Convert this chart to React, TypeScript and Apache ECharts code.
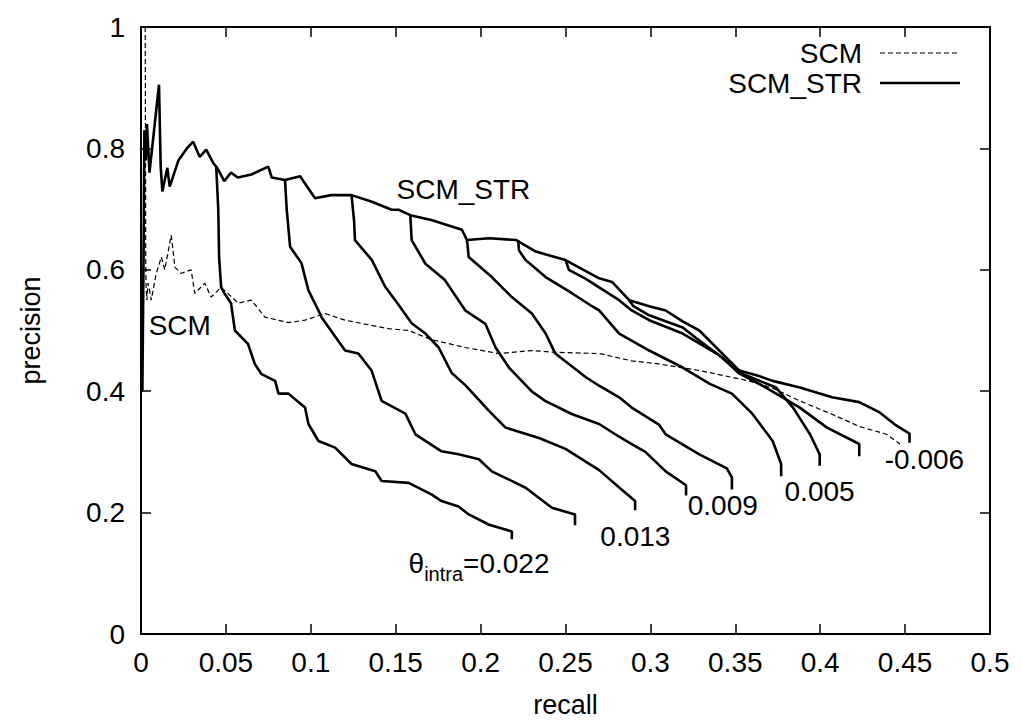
import React, { useEffect, useRef } from "react";
import * as echarts from "echarts";

type Pt = [number, number];

const FONT = '"Liberation Sans", Arial, Helvetica, sans-serif';

const xMin = 0;
const xMax = 0.5;
const xStep = 0.05;
const yMin = 0;
const yMax = 1;
const yStep = 0.2;

// SCM (dashed)
const scm: Pt[] = [
  [0.0025, 1.0], [0.0026, 0.85], [0.0028, 0.62], [0.003, 0.57], [0.0035, 0.55],
  [0.0041, 0.578], [0.005, 0.566], [0.006, 0.55], [0.009, 0.594], [0.012, 0.621],
  [0.014, 0.6], [0.0178, 0.657], [0.02, 0.604], [0.0236, 0.594], [0.0295, 0.6],
  [0.0317, 0.561], [0.0376, 0.578], [0.0413, 0.555], [0.0472, 0.571], [0.0573, 0.545],
  [0.065, 0.55], [0.073, 0.522], [0.0868, 0.513], [0.0966, 0.517], [0.1084, 0.528],
  [0.1202, 0.517], [0.1458, 0.503], [0.1576, 0.5], [0.171, 0.485], [0.191, 0.472],
  [0.2107, 0.462], [0.2302, 0.467], [0.244, 0.464], [0.27, 0.462], [0.289, 0.45],
  [0.305, 0.445], [0.329, 0.434], [0.358, 0.417], [0.372, 0.405], [0.388, 0.384],
  [0.407, 0.362], [0.423, 0.342], [0.439, 0.329], [0.447, 0.313],
];

// SCM_STR envelope (theta_intra = -0.006)
const strEnvelope: Pt[] = [
  [0.0008, 0.4], [0.0015, 0.62], [0.002, 0.83], [0.0028, 0.78], [0.0035, 0.84],
  [0.005, 0.76], [0.0106, 0.905], [0.0116, 0.77], [0.0126, 0.729], [0.0155, 0.768],
  [0.0169, 0.737], [0.022, 0.78], [0.027, 0.8], [0.0307, 0.811], [0.0346, 0.786],
  [0.0384, 0.798], [0.0425, 0.776], [0.0443, 0.77], [0.0455, 0.765], [0.049, 0.746],
  [0.053, 0.76], [0.057, 0.752], [0.065, 0.757], [0.075, 0.77], [0.077, 0.752],
  [0.0848, 0.748], [0.0937, 0.754], [0.1025, 0.718], [0.112, 0.723], [0.124, 0.723],
  [0.136, 0.712], [0.1476, 0.699], [0.1517, 0.699], [0.1586, 0.69], [0.171, 0.682],
  [0.189, 0.666], [0.192, 0.649], [0.205, 0.652], [0.221, 0.649], [0.2325, 0.63],
  [0.25, 0.616], [0.2698, 0.586], [0.2774, 0.58], [0.2875, 0.55], [0.2993, 0.54],
  [0.309, 0.533], [0.319, 0.515], [0.3288, 0.5], [0.3424, 0.462], [0.3524, 0.434],
  [0.364, 0.425], [0.372, 0.417], [0.388, 0.406], [0.407, 0.39], [0.423, 0.382],
  [0.435, 0.365], [0.444, 0.345], [0.4526, 0.33], [0.4526, 0.315],
];

// SCM_STR branches (theta_intra = 0.022 ... )
const strB1: Pt[] = [
  [0.0443, 0.77], [0.0455, 0.7], [0.046, 0.62], [0.0472, 0.571], [0.0494, 0.56],
  [0.053, 0.545], [0.0553, 0.5], [0.063, 0.478], [0.067, 0.445], [0.071, 0.428],
  [0.079, 0.417], [0.081, 0.396], [0.0868, 0.396], [0.0966, 0.373], [0.0986, 0.346],
  [0.1045, 0.318], [0.1143, 0.307], [0.124, 0.28], [0.138, 0.268], [0.1417, 0.252],
  [0.1576, 0.249], [0.171, 0.23], [0.177, 0.219], [0.187, 0.21], [0.193, 0.197],
  [0.205, 0.18], [0.2184, 0.169], [0.2184, 0.156],
];
const strB2: Pt[] = [
  [0.0848, 0.748], [0.0858, 0.7], [0.0878, 0.638], [0.0945, 0.611], [0.0986, 0.566],
  [0.1045, 0.533], [0.1063, 0.522], [0.1202, 0.467], [0.128, 0.462], [0.1358, 0.434],
  [0.1417, 0.384], [0.1557, 0.363], [0.1616, 0.329], [0.177, 0.301], [0.187, 0.296],
  [0.199, 0.288], [0.2066, 0.268], [0.2265, 0.241], [0.242, 0.208], [0.2556, 0.197],
  [0.2556, 0.179],
];
const strB3: Pt[] = [
  [0.124, 0.723], [0.1255, 0.68], [0.126, 0.649], [0.136, 0.616], [0.1438, 0.572],
  [0.1505, 0.547], [0.1594, 0.512], [0.1675, 0.495], [0.1753, 0.472], [0.183, 0.43],
  [0.191, 0.41], [0.2048, 0.368], [0.2147, 0.34], [0.2344, 0.323], [0.25, 0.305],
  [0.2698, 0.27], [0.283, 0.238], [0.291, 0.219], [0.291, 0.204],
];
const strB4: Pt[] = [
  [0.1586, 0.69], [0.1594, 0.649], [0.1675, 0.61], [0.179, 0.583], [0.191, 0.533],
  [0.2028, 0.511], [0.2088, 0.472], [0.2167, 0.439], [0.23, 0.4], [0.238, 0.384],
  [0.254, 0.362], [0.2698, 0.346], [0.2816, 0.325], [0.289, 0.313], [0.297, 0.3],
  [0.309, 0.268], [0.321, 0.245], [0.321, 0.228],
];
const strB5: Pt[] = [
  [0.192, 0.649], [0.193, 0.621], [0.2066, 0.588], [0.2184, 0.555], [0.2302, 0.528],
  [0.2383, 0.495], [0.244, 0.462], [0.262, 0.423], [0.2698, 0.409], [0.2816, 0.39],
  [0.289, 0.373], [0.305, 0.345], [0.309, 0.329], [0.3288, 0.296], [0.345, 0.273],
  [0.348, 0.258], [0.348, 0.238],
];
const strB6: Pt[] = [
  [0.2221, 0.649], [0.2226, 0.632], [0.2265, 0.616], [0.2383, 0.588], [0.254, 0.561],
  [0.2656, 0.54], [0.2698, 0.533], [0.2816, 0.495], [0.2993, 0.467], [0.319, 0.439],
  [0.335, 0.412], [0.348, 0.396], [0.36, 0.363], [0.372, 0.318], [0.377, 0.28],
  [0.377, 0.26],
];
const strB7: Pt[] = [
  [0.25, 0.616], [0.252, 0.6], [0.262, 0.585], [0.2698, 0.571], [0.2816, 0.55],
  [0.289, 0.533], [0.2993, 0.517], [0.319, 0.495], [0.339, 0.462], [0.354, 0.429],
  [0.374, 0.406], [0.384, 0.373], [0.394, 0.329], [0.3997, 0.296], [0.3997, 0.277],
];
const strB8: Pt[] = [
  [0.2875, 0.55], [0.29, 0.54], [0.2993, 0.525], [0.319, 0.505], [0.329, 0.483],
  [0.3424, 0.455], [0.352, 0.43], [0.368, 0.406], [0.388, 0.373], [0.404, 0.34],
  [0.423, 0.313], [0.423, 0.293],
];

const strCurves: Pt[][] = [strB1, strB2, strB3, strB4, strB5, strB6, strB7, strB8, strEnvelope];

// text annotations in data coordinates (left edge, vertical centre)
const curveLabels: { text: string; at: Pt }[] = [
  { text: "SCM_STR", at: [0.1505, 0.732] },
  { text: "SCM", at: [0.0045, 0.508] },
  { text: "0.013", at: [0.2705, 0.161] },
  { text: "0.009", at: [0.322, 0.212] },
  { text: "0.005", at: [0.379, 0.234] },
  { text: "-0.006", at: [0.438, 0.287] },
];
const thetaLabel = { symbol: "θ", sub: "intra", value: "=0.022", at: [0.1576, 0.111] as Pt };

export default function App() {
  const ref = useRef<HTMLDivElement>(null);

  useEffect(() => {
    if (!ref.current) return;
    const chart = echarts.init(ref.current, undefined, { renderer: "svg" });

    const axisLine = { show: true, onZero: false, lineStyle: { color: "#000", width: 2 } };
    const axisTick = { show: true, inside: true, length: 10, lineStyle: { color: "#000", width: 1.5 } };

    const series: any[] = [
      {
        name: "SCM",
        type: "line",
        data: scm,
        showSymbol: false,
        symbol: "none",
        lineStyle: { color: "#000", width: 1.2, type: [5, 3] },
        z: 2,
      },
      ...strCurves.map((c) => ({
        name: "SCM_STR",
        type: "line",
        data: c,
        showSymbol: false,
        symbol: "none",
        lineStyle: { color: "#000", width: 2.6 },
        z: 3,
      })),
    ];

    chart.setOption({
      animation: false,
      backgroundColor: "#fff",
      textStyle: { fontFamily: FONT },
      grid: { left: 141, right: 32, top: 27, bottom: 89 },
      xAxis: [
        {
          type: "value",
          min: xMin,
          max: xMax,
          interval: xStep,
          position: "bottom",
          axisLine,
          axisTick,
          splitLine: { show: false },
          axisLabel: { fontSize: 28, color: "#000", margin: 14, fontFamily: FONT },
          name: "recall",
          nameLocation: "middle",
          nameGap: 57,
          nameTextStyle: { fontSize: 27, color: "#000", fontFamily: FONT },
        },
        {
          type: "value",
          min: xMin,
          max: xMax,
          interval: xStep,
          position: "top",
          axisLine,
          axisTick,
          splitLine: { show: false },
          axisLabel: { show: false },
        },
      ],
      yAxis: [
        {
          type: "value",
          min: yMin,
          max: yMax,
          interval: yStep,
          position: "left",
          axisLine,
          axisTick,
          splitLine: { show: false },
          axisLabel: { fontSize: 28, color: "#000", margin: 16, fontFamily: FONT },
          name: "precision",
          nameLocation: "middle",
          nameGap: 97,
          nameRotate: 90,
          nameTextStyle: { fontSize: 27, color: "#000", fontFamily: FONT },
        },
        {
          type: "value",
          min: yMin,
          max: yMax,
          interval: yStep,
          position: "right",
          axisLine,
          axisTick,
          splitLine: { show: false },
          axisLabel: { show: false },
        },
      ],
      series,
    });

    const toPx = (p: Pt) => chart.convertToPixel({ xAxisIndex: 0, yAxisIndex: 0 }, p) as number[];

    const graphics: any[] = curveLabels.map((l) => {
      const [px, py] = toPx(l.at);
      return {
        type: "text",
        x: px,
        y: py,
        z: 10,
        style: {
          text: l.text,
          fontSize: 28,
          fontFamily: FONT,
          fill: "#000",
          textAlign: "left",
          textVerticalAlign: "middle",
        },
      };
    });

    const [tx, ty] = toPx(thetaLabel.at);
    graphics.push({
      type: "text",
      x: tx,
      y: ty,
      z: 10,
      style: {
        text: `{a|${thetaLabel.symbol}}{b|${thetaLabel.sub}}{a|${thetaLabel.value}}`,
        fill: "#000",
        textAlign: "left",
        textVerticalAlign: "middle",
        rich: {
          a: { fontSize: 28, fontFamily: FONT, fill: "#000", lineHeight: 34, verticalAlign: "top" },
          b: { fontSize: 20, fontFamily: FONT, fill: "#000", lineHeight: 34, verticalAlign: "bottom", padding: [14, 0, 0, 0] },
        },
      },
    });

    // key (gnuplot style)
    const keyItems = [
      { text: "SCM", y: 53, dash: [5, 3], width: 1.2 },
      { text: "SCM_STR", y: 83, dash: null as any, width: 2.6 },
    ];
    keyItems.forEach((k) => {
      graphics.push({
        type: "text",
        x: 862,
        y: k.y,
        z: 10,
        style: {
          text: k.text,
          fontSize: 28,
          fontFamily: FONT,
          fill: "#000",
          textAlign: "right",
          textVerticalAlign: "middle",
        },
      });
      graphics.push({
        type: "line",
        z: 10,
        shape: { x1: 880, y1: k.y, x2: 960, y2: k.y },
        style: { stroke: "#000", lineWidth: k.width, lineDash: k.dash || undefined },
      });
    });

    chart.setOption({ graphic: graphics });

    return () => chart.dispose();
  }, []);

  return (
    <div
      ref={ref}
      style={{ position: "fixed", left: 0, top: 0, width: 1022, height: 723, background: "#fff" }}
    />
  );
}
